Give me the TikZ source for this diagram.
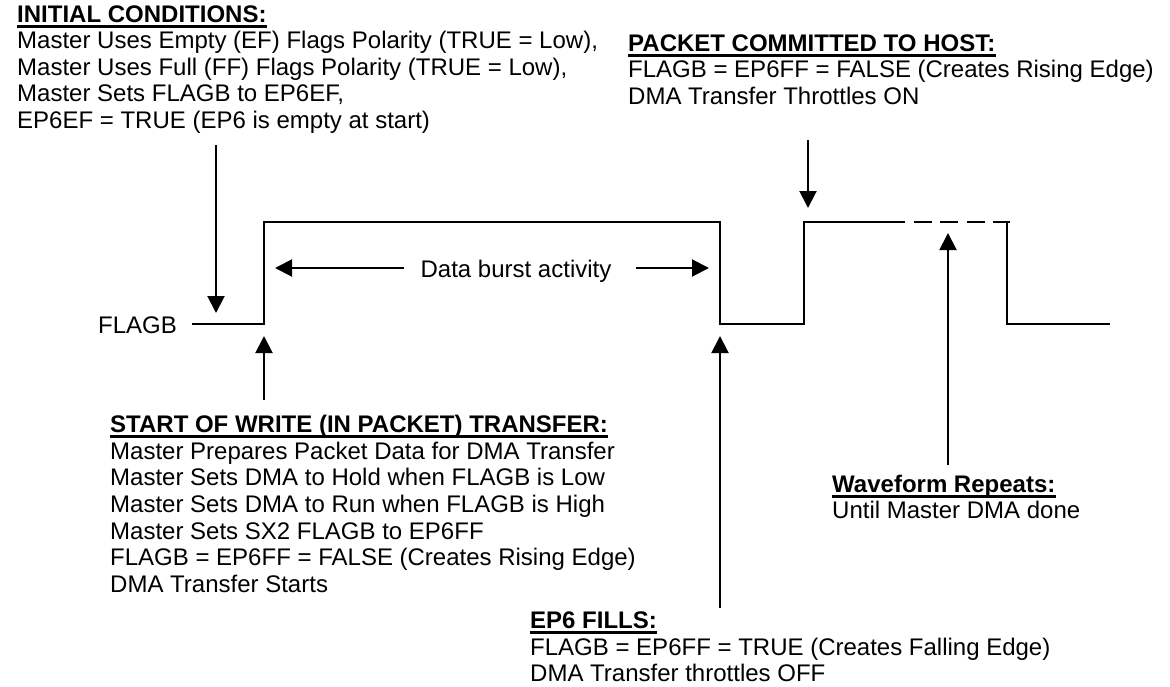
\documentclass[tikz,border=0pt]{standalone}
\usepackage{fontspec}
\setmainfont{Liberation Sans}
\usetikzlibrary{arrows.meta}
\tikzset{
  txt/.style={inner sep=0pt, anchor=base west, font=\fontsize{24}{27}\selectfont},
  head/.style={inner sep=0pt, anchor=base west, font=\fontsize{24}{27}\selectfont\bfseries},
  uline/.style={line width=2.4pt},
  wave/.style={line width=2pt},
  dashwave/.style={line width=2.8pt, dash pattern=on 18pt off 8.5pt},
  arr/.style={line width=2pt, -{Triangle[length=17pt,width=17pt]}}
}
\newcommand{\ul}[1]{\draw[uline] ([yshift=-4.5pt]#1.base west) -- ([yshift=-4.5pt]#1.base east);}
\begin{document}
\begin{tikzpicture}[x=1pt,y=-1pt]
\useasboundingbox (0,0) rectangle (1170,686);
% ---- initial conditions
\node[head] (ich) at (17,22) {INITIAL CONDITIONS:};
\ul{ich}
\node[txt] (ic1) at (17,48.5) {Master Uses Empty (EF) Flags Polarity (TRUE = Low),};
\node[txt] (ic2) at (17,75) {Master Uses Full (FF) Flags Polarity (TRUE = Low),};
\node[txt] (ic3) at (17,101.5) {Master Sets FLAGB to EP6EF,};
\node[txt] (ic4) at (17,128) {EP6EF = TRUE (EP6 is empty at start)};
% ---- packet committed
\node[head] (pch) at (628,51) {PACKET COMMITTED TO HOST:};
\ul{pch}
\node[txt] (pc1) at (628,77.5) {FLAGB = EP6FF = FALSE (Creates Rising Edge)};
\node[txt] (pc2) at (628,104) {DMA Transfer Throttles ON};
% ---- start of write
\node[head] (swh) at (110,432) {START OF WRITE (IN PACKET) TRANSFER:};
\ul{swh}
\node[txt] (sw1) at (110,459) {Master Prepares Packet Data for DMA Transfer};
\node[txt] (sw2) at (110,485.5) {Master Sets DMA to Hold when FLAGB is Low};
\node[txt] (sw3) at (110,512) {Master Sets DMA to Run when FLAGB is High};
\node[txt] (sw4) at (110,539) {Master Sets SX2 FLAGB to EP6FF};
\node[txt] (sw5) at (110,565.5) {FLAGB = EP6FF = FALSE (Creates Rising Edge)};
\node[txt] (sw6) at (110,592) {DMA Transfer Starts};
% ---- EP6 fills
\node[head] (efh) at (530,628) {EP6 FILLS:};
\ul{efh}
\node[txt] (ef1) at (530,655) {FLAGB = EP6FF = TRUE (Creates Falling Edge)};
\node[txt] (ef2) at (530,681) {DMA Transfer throttles OFF};
% ---- waveform repeats
\node[head] (wrh) at (832,492) {Waveform Repeats:};
\ul{wrh}
\node[txt] (wr1) at (832,518) {Until Master DMA done};
% ---- signal label
\node[txt] (flagb) at (98,333) {FLAGB};
\node[txt, anchor=base] (burst) at (516,277) {Data burst activity};
% ---- waveform
\coordinate (w0) at (192,324);
\coordinate (r1) at (264,324);
\coordinate (r1h) at (264,222);
\coordinate (f1h) at (720,222);
\coordinate (f1) at (720,324);
\coordinate (r2) at (804,324);
\coordinate (r2h) at (804,222);
\coordinate (d0) at (887,222);
\coordinate (d1) at (1010,222);
\coordinate (f2h) at (1007,222);
\coordinate (f2) at (1007,324);
\coordinate (w9) at (1110,324);
\draw[wave] (w0) -- (r1) -- (r1h) -- (f1h) -- (f1) -- (r2) -- (r2h) -- (d0);
\draw[dashwave] (d0) -- (d1);
\draw[wave] (f2h) -- (f2) -- (w9);
% ---- arrows
\coordinate (a1s) at (216,145);
\coordinate (a1t) at (216,313);
\draw[arr] (a1s) -- (a1t);
\coordinate (a2s) at (808,140);
\coordinate (a2t) at (808,208);
\draw[arr] (a2s) -- (a2t);
\coordinate (a3s) at (264,400);
\coordinate (a3t) at (264,336);
\draw[arr] (a3s) -- (a3t);
\coordinate (a4s) at (720,608);
\coordinate (a4t) at (720,336);
\draw[arr] (a4s) -- (a4t);
\coordinate (a5s) at (948,465);
\coordinate (a5t) at (948,233);
\draw[arr] (a5s) -- (a5t);
\coordinate (b1t) at (275,268);
\coordinate (b2t) at (709,268);
\draw[arr] ([xshift=-16pt]burst.west |- b1t) -- (b1t);
\draw[arr] ([xshift=24pt]burst.east |- b2t) -- (b2t);
\end{tikzpicture}
\end{document}
